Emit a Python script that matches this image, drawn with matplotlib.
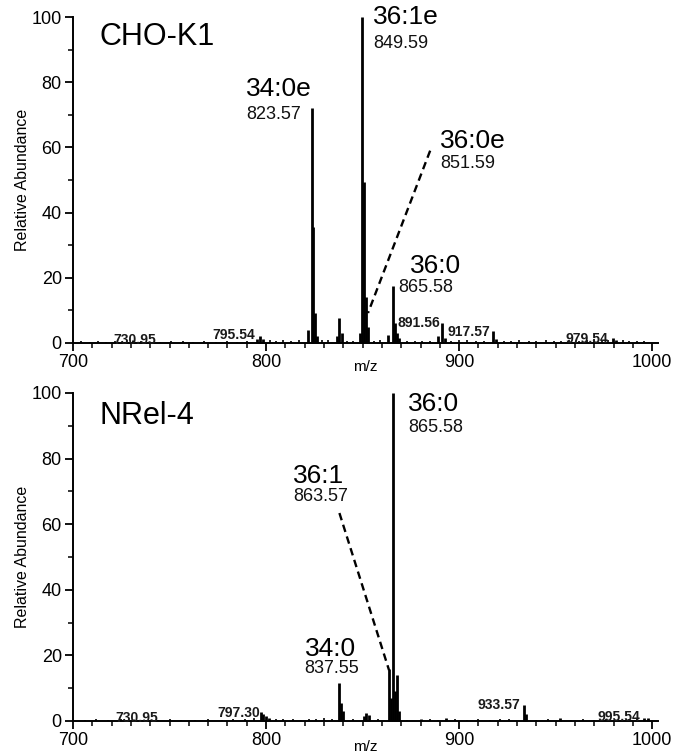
import matplotlib
matplotlib.use("Agg")
import matplotlib.pyplot as plt
from matplotlib.ticker import MultipleLocator

plt.rcParams['font.family'] = ['Liberation Sans', 'DejaVu Sans']

# ---------------- data ----------------
# CHO-K1 spectrum (stick peaks): m/z and relative abundance
top_mz = [730.95, 795.54, 797.0, 798.5, 821.8, 823.57, 824.57, 825.6, 826.6,
          836.6, 837.8, 839.2, 848.6, 849.59, 850.59, 851.59, 852.8,
          863.3, 865.58, 866.6, 867.8, 869.0, 889.2, 891.0, 892.5,
          917.57, 919.0, 979.54, 981.5]
top_int = [0.8, 1.2, 2.2, 1.3, 4.0, 72.0, 35.5, 9.2, 2.0,
           2.0, 7.6, 3.0, 3.0, 100.0, 49.5, 14.2, 5.0,
           2.5, 17.5, 6.0, 3.0, 1.5, 2.0, 6.0, 1.5,
           3.7, 1.2, 1.5, 1.0]
top_noise = [(704, 0.5), (709, 0.4), (713, 0.6), (717, 0.3), (722, 0.5), (727, 0.4),
             (735, 0.5), (740, 0.3), (745, 0.4), (751, 0.5), (757, 0.6), (762, 0.4),
             (768, 0.5), (774, 0.3), (780, 0.6), (785, 0.4), (790, 0.5), (802, 1.0),
             (805, 0.7), (809, 0.9), (813, 0.6), (817, 0.8), (829, 1.0), (832, 0.8),
             (842, 0.6), (845, 0.7), (856, 0.6), (859, 0.8), (873, 0.5), (877, 0.7),
             (881, 0.6), (885, 0.5), (896, 0.6), (900, 0.9), (904, 0.8), (909, 0.5),
             (913, 0.6), (923, 0.7), (927, 0.5), (931, 0.9), (936, 0.6), (940, 0.5),
             (945, 0.8), (949, 0.6), (953, 0.7), (957, 0.9), (962, 0.6), (966, 1.0),
             (970, 1.2), (974, 0.8), (977, 1.0), (985, 0.9), (988, 0.6), (992, 0.7),
             (996, 0.5)]

# NRel-4 spectrum
bot_mz = [730.95, 797.30, 798.6, 800.0, 801.5, 837.55, 838.6, 839.6,
          850.5, 852.0, 853.5, 863.57, 864.6, 865.58, 866.6, 867.8, 869.0,
          880.0, 893.0, 933.57, 934.8, 952.0, 995.54, 998.0]
bot_int = [0.6, 2.6, 2.0, 1.5, 1.0, 11.6, 5.5, 3.0,
           1.5, 2.5, 1.8, 16.0, 7.0, 100.0, 9.0, 14.0, 3.0,
           0.6, 0.8, 4.9, 2.0, 0.8, 1.0, 0.8]
bot_noise = [(706, 0.4), (712, 0.6), (718, 0.3), (725, 0.5), (738, 0.4), (744, 0.3),
             (750, 0.5), (756, 0.4), (763, 0.3), (770, 0.5), (777, 0.4), (783, 0.6),
             (789, 0.5), (794, 0.8), (805, 0.7), (809, 0.5), (814, 0.6), (818, 0.4),
             (822, 0.7), (826, 0.5), (830, 0.8), (834, 0.6), (845, 0.5), (858, 0.6),
             (873, 0.4), (885, 0.5), (889, 0.4), (898, 0.5), (904, 0.4), (910, 0.5),
             (916, 0.4), (921, 0.6), (926, 0.5), (940, 0.4), (946, 0.6), (958, 0.4),
             (964, 0.5), (970, 0.4), (976, 0.5), (982, 0.4), (988, 0.5), (992, 0.6)]

# annotations: (text, m/z, abundance, size)
top_big = [("CHO-K1", 714, 94, 22), ("34:0e", 789.6, 78, 19), ("36:1e", 855.4, 100, 19),
           ("36:0e", 890.2, 62, 19), ("36:0", 874.6, 23.6, 19)]
top_mass = [("823.57", 789.6, 70), ("849.59", 855.4, 92), ("851.59", 890.2, 55),
            ("865.58", 868.4, 17)]
top_small = [("730.95", 720.7, 1.0), ("795.54", 772.0, 2.5), ("891.56", 867.9, 6.0),
             ("917.57", 893.8, 3.4), ("979.54", 955.0, 1.2)]
top_dash = ([885.0, 852.8], [59.0, 9.2])

bot_big = [("NRel-4", 714, 93, 22), ("36:0", 873.6, 96.6, 19), ("36:1", 814.0, 74.7, 19),
           ("34:0", 820.0, 22, 19)]
bot_mass = [("865.58", 873.6, 89.6), ("863.57", 814.0, 68.3), ("837.55", 820.0, 16)]
bot_small = [("730.95", 721.8, 0.8), ("797.30", 774.6, 2.4), ("933.57", 909.3, 5.0),
             ("995.54", 971.5, 1.2)]
bot_dash = ([838.0, 863.7], [63.4, 15.5])

xticks = [700, 800, 900, 1000]
yticks = [0, 20, 40, 60, 80, 100]

# ---------------- figure ----------------
fig = plt.figure(figsize=(6.75, 7.56), dpi=100)
ax_top = fig.add_axes([0.1081, 0.5463, 0.8667, 0.4312])
ax_bot = fig.add_axes([0.1081, 0.0463, 0.8667, 0.4339])


def draw(ax, mz, inten, noise, big, mass, small, dash, mz_y):
    nm = [p[0] for p in noise]
    nh = [p[1] for p in noise]
    ax.vlines(nm, 0, nh, color='black', lw=1.2, clip_on=False)
    ax.vlines(mz, 0, inten, color='black', lw=2.0, clip_on=False)
    ax.plot(dash[0], dash[1], color='black', lw=1.7, ls=(0, (3.2, 2.0)))
    for t, x, y, s in big:
        ax.text(x, y, t, fontsize=s, ha='left', va='center', color='black')
    for t, x, y in mass:
        ax.text(x, y, t, fontsize=13, ha='left', va='center', color='#111111')
    for t, x, y in small:
        ax.text(x, y, t, fontsize=10, fontweight='bold', ha='left', va='center',
                color='#1a1a1a')
    ax.set_xlim(700, 1003)
    ax.set_ylim(0, 100)
    ax.set_xticks(xticks)
    ax.set_yticks(yticks)
    ax.xaxis.set_minor_locator(MultipleLocator(10))
    ax.yaxis.set_minor_locator(MultipleLocator(10))
    for side in ['top', 'right']:
        ax.spines[side].set_visible(False)
    for side in ['left', 'bottom']:
        ax.spines[side].set_linewidth(1.4)
    ax.tick_params(axis='both', which='major', direction='out', length=6, width=1.3,
                   labelsize=13, pad=2)
    ax.tick_params(axis='both', which='minor', direction='out', length=3.5, width=1.1)
    ax.set_ylabel("Relative Abundance", fontsize=11.5, labelpad=1)
    ax.text(0.5, mz_y, "m/z", transform=ax.transAxes, fontsize=11,
            ha='center', va='center')


draw(ax_top, top_mz, top_int, top_noise, top_big, top_mass, top_small, top_dash, -0.075)
draw(ax_bot, bot_mz, bot_int, bot_noise, bot_big, bot_mass, bot_small, bot_dash, -0.078)

fig.savefig("out.png", dpi=100)
